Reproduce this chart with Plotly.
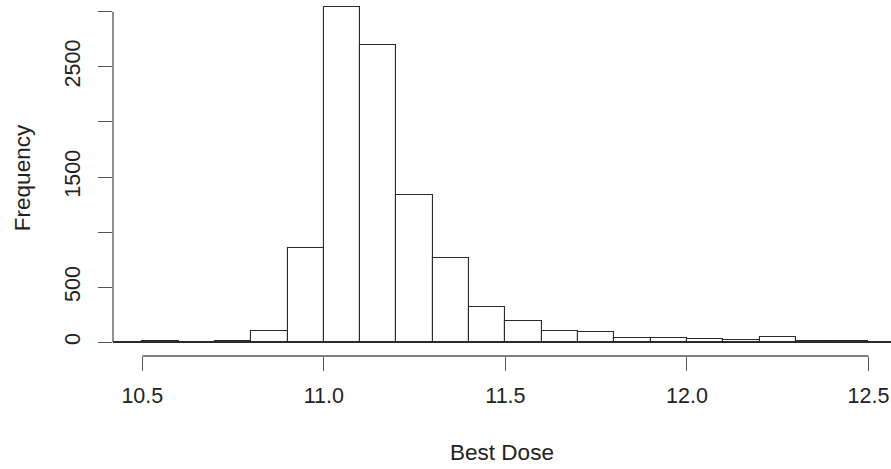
import plotly.graph_objects as go

# Histogram data (bin width 0.1)
bin_left = [10.4, 10.5, 10.6, 10.7, 10.8, 10.9, 11.0, 11.1, 11.2, 11.3, 11.4,
            11.5, 11.6, 11.7, 11.8, 11.9, 12.0, 12.1, 12.2, 12.3, 12.4, 12.5]
counts = [0, 14, 4, 16, 102, 856, 3040, 2700, 1337, 762, 323,
          193, 103, 91, 36, 36, 33, 24, 45, 10, 8, 5]
bin_width = 0.1

x_tick_vals = [10.5, 11.0, 11.5, 12.0, 12.5]
x_tick_text = ["10.5", "11.0", "11.5", "12.0", "12.5"]
y_tick_vals = [0, 500, 1000, 1500, 2000, 2500, 3000]
y_tick_text = ["0", "500", "", "1500", "", "2500", ""]

centers = [round(b + bin_width / 2, 4) for b in bin_left]

FONT = "Liberation Sans, Arial, Helvetica, sans-serif"
LINE = "#2a2a2a"
FS = 21.5
FS_TITLE = 22.5

fig = go.Figure()
fig.add_trace(go.Bar(
    x=centers, y=counts, width=bin_width,
    marker=dict(color="white", line=dict(color=LINE, width=1.1)),
    showlegend=False, hoverinfo="x+y",
))

# baseline drawn under all bins (including empty ones)
fig.add_shape(type="line", xref="x", yref="y",
              x0=bin_left[0], x1=bin_left[-1] + bin_width, y0=0, y1=0,
              line=dict(color=LINE, width=1.1), layer="above")
# R-style axis lines spanning first to last tick
fig.add_shape(type="line", xref="x", yref="paper",
              x0=x_tick_vals[0], x1=x_tick_vals[-1], y0=0, y1=0,
              line=dict(color="#555", width=1.3))
fig.add_shape(type="line", xref="paper", yref="y",
              x0=0, x1=0, y0=y_tick_vals[0], y1=y_tick_vals[-1],
              line=dict(color="#555", width=1.3))

fig.update_layout(
    width=891, height=469,
    margin=dict(l=113, r=0, t=0, b=113),
    paper_bgcolor="white", plot_bgcolor="white",
    font=dict(family=FONT, size=FS, color="#222"),
    bargap=0,
    xaxis=dict(
        range=[10.4193, 12.562], automargin=False,
        tickmode="array", tickvals=x_tick_vals, ticktext=x_tick_text,
        ticks="outside", ticklen=14, tickwidth=1.3, tickcolor="#555",
        showgrid=False, zeroline=False, showline=False,
        ticklabelstandoff=6,
        title=dict(text="Best Dose", standoff=37, font=dict(size=FS_TITLE)),
    ),
    yaxis=dict(
        range=[-124, 3106], automargin=False,
        tickmode="array", tickvals=y_tick_vals, ticktext=y_tick_text,
        tickangle=-90,
        ticks="outside", ticklen=14, tickwidth=1.3, tickcolor="#555",
        showgrid=False, zeroline=False, showline=False,
        ticklabelstandoff=9,
        title=dict(text="Frequency", standoff=24, font=dict(size=FS_TITLE)),
    ),
)

fig.write_html(
    "out.html",
    config={"displayModeBar": False},
    post_script="document.body.style.margin='0';document.body.style.padding='0';",
)
